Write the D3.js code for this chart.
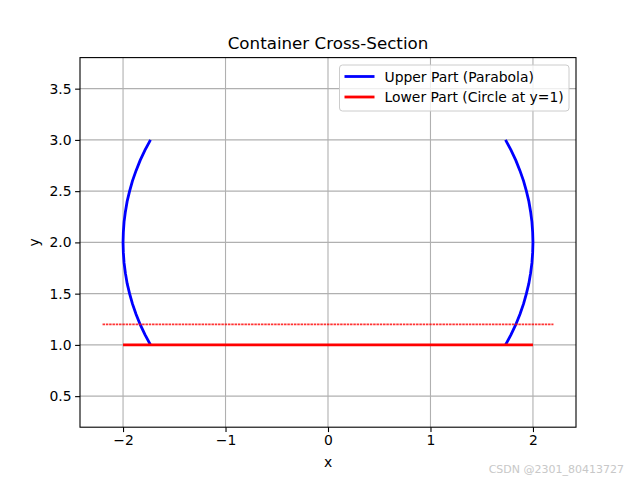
<!DOCTYPE html>
<html>
<head>
<meta charset="utf-8">
<script src="https://cdn.jsdelivr.net/npm/d3@7"></script>
<style>
  body { margin: 0; background: #fff; }
  text { font-family: "DejaVu Sans", sans-serif; }
</style>
</head>
<body>
<script>
// values
const upperY = [1.0, 1.1, 1.2, 1.3, 1.4, 1.5, 1.6, 1.7, 1.8, 1.9, 2.0, 2.1, 2.2, 2.3, 2.4, 2.5, 2.6, 2.7, 2.8, 2.9, 3.0];
const upperX = [1.732, 1.786, 1.833, 1.873, 1.908, 1.936, 1.960, 1.977, 1.990, 1.997, 2.0, 1.997, 1.990, 1.977, 1.960, 1.936, 1.908, 1.873, 1.833, 1.786, 1.732];
const lowerX = [-2, 2];
const lowerY = [1, 1];
const rimX = [-2.2, 2.2];
const rimY = [1.2, 1.2];
const xTicks = [-2, -1, 0, 1, 2];
const yTicks = [0.5, 1.0, 1.5, 2.0, 2.5, 3.0, 3.5];
const legendLabels = ["Upper Part (Parabola)", "Lower Part (Circle at y=1)"];

const W = 640, H = 480;
const m = { left: 80, right: 64, top: 57.6, bottom: 52.8 };
const iw = W - m.left - m.right, ih = H - m.top - m.bottom;

const svg = d3.select("body").append("svg")
    .attr("width", W)
    .attr("height", H);

const x = d3.scaleLinear().domain([-2.42, 2.42]).range([0, iw]);
const y = d3.scaleLinear().domain([0.197, 3.803]).range([ih, 0]);

const g = svg.append("g")
    .attr("transform", `translate(${m.left},${m.top})`);

// grid
g.selectAll(".gx").data(xTicks).enter().append("line")
    .attr("x1", d => x(d)).attr("x2", d => x(d))
    .attr("y1", 0).attr("y2", ih)
    .style("stroke", "#b0b0b0").style("stroke-width", 1.1);
g.selectAll(".gy").data(yTicks).enter().append("line")
    .attr("y1", d => y(d)).attr("y2", d => y(d))
    .attr("x1", 0).attr("x2", iw)
    .style("stroke", "#b0b0b0").style("stroke-width", 1.1);

const plot = g.append("g");

const line = d3.line().x(d => x(d[0])).y(d => y(d[1]));

// upper part, both sides
const right = upperX.map((v, i) => [v, upperY[i]]);
const left = upperX.map((v, i) => [-v, upperY[i]]);
[left, right].forEach(pts => {
    plot.append("path")
        .attr("d", line(pts))
        .style("fill", "none")
        .style("stroke", "blue")
        .style("stroke-width", 2.8);
});

// thin rim line
plot.append("path")
    .attr("d", line(rimX.map((v, i) => [v, rimY[i]])))
    .style("fill", "none")
    .style("stroke", "red")
    .style("stroke-opacity", 0.8)
    .style("stroke-width", 1.6)
    .style("stroke-dasharray", "2.5,0.8");

// lower part
plot.append("path")
    .attr("d", line(lowerX.map((v, i) => [v, lowerY[i]])))
    .style("fill", "none")
    .style("stroke", "red")
    .style("stroke-width", 2.8);

// axes
const xAxis = g.append("g")
    .attr("transform", `translate(0,${ih})`)
    .call(d3.axisBottom(x).tickValues(xTicks).tickSize(4.9).tickPadding(3.5)
        .tickFormat(d => d < 0 ? "\u2212" + Math.abs(d) : d));
const yAxis = g.append("g")
    .call(d3.axisLeft(y).tickValues(yTicks).tickSize(4.9).tickPadding(3.5)
        .tickFormat(d3.format(".1f")));
[xAxis, yAxis].forEach(a => {
    a.select(".domain").remove();
    a.selectAll("line").style("stroke", "#000").style("stroke-width", 1.1);
    a.selectAll("text").style("font-size", "13.9px").style("fill", "#000")
        .style("font-family", "DejaVu Sans");
});

g.append("rect")
    .attr("width", iw).attr("height", ih)
    .style("fill", "none").style("stroke", "#000").style("stroke-width", 1.1);

// labels
svg.append("text")
    .attr("x", m.left + iw / 2).attr("y", 49)
    .attr("text-anchor", "middle")
    .style("font-size", "16.7px")
    .text("Container Cross-Section");
svg.append("text")
    .attr("x", m.left + iw / 2).attr("y", 467)
    .attr("text-anchor", "middle")
    .style("font-size", "13.9px")
    .text("x");
svg.append("text")
    .attr("transform", `translate(39,${m.top + ih / 2}) rotate(-90)`)
    .attr("text-anchor", "middle")
    .style("font-size", "13.9px")
    .text("y");

// legend
const lg = svg.append("g").attr("transform", "translate(339.5,65)");
lg.append("rect")
    .attr("width", 229.5).attr("height", 46)
    .attr("rx", 3)
    .style("fill", "#fff").style("fill-opacity", 0.8)
    .style("stroke", "#cccccc").style("stroke-width", 1);
const colors = ["blue", "red"];
legendLabels.forEach((t, i) => {
    const yy = 11.5 + i * 20.5;
    lg.append("line")
        .attr("x1", 5).attr("x2", 35)
        .attr("y1", yy).attr("y2", yy)
        .style("stroke", colors[i]).style("stroke-width", 2.8);
    lg.append("text")
        .attr("x", 45).attr("y", yy + 5)
        .style("font-size", "13.9px")
        .text(t);
});

// watermark
svg.append("text")
    .attr("x", 624).attr("y", 473)
    .attr("text-anchor", "end")
    .style("font-size", "11px")
    .style("fill", "#c8c8c8")
    .text("CSDN @2301_80413727");
</script>
</body>
</html>
